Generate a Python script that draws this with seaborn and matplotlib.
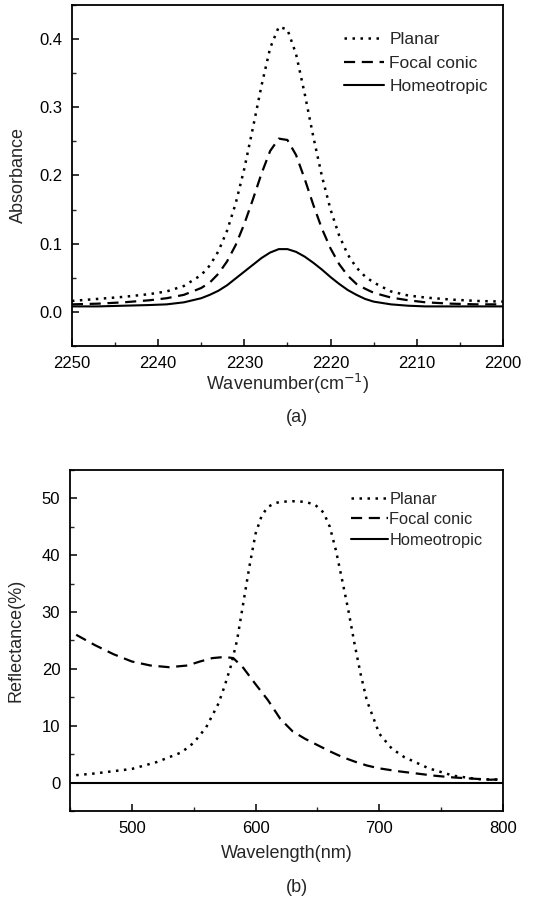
import numpy as np
import pandas as pd
import matplotlib
matplotlib.use("Agg")
import matplotlib.pyplot as plt
import seaborn as sns
from matplotlib.ticker import MultipleLocator

# ---- Panel (a) data ----
wavenumber = [2250, 2247, 2244, 2241, 2239, 2237, 2235, 2234, 2233, 2232, 2231,
              2230, 2229, 2228, 2227, 2226, 2225, 2224, 2223, 2222, 2221, 2220,
              2219, 2218, 2217, 2216, 2215, 2213, 2211, 2209, 2206, 2203, 2200]
abs_planar = [0.016, 0.019, 0.022, 0.026, 0.030, 0.038, 0.054, 0.068, 0.089, 0.119, 0.159,
              0.210, 0.270, 0.332, 0.387, 0.418, 0.414, 0.378, 0.320, 0.257, 0.199, 0.150,
              0.112, 0.084, 0.065, 0.052, 0.043, 0.030, 0.024, 0.021, 0.018, 0.016, 0.015]
abs_focal = [0.011, 0.012, 0.014, 0.017, 0.020, 0.025, 0.035, 0.043, 0.056, 0.074, 0.098,
             0.129, 0.165, 0.203, 0.236, 0.254, 0.252, 0.230, 0.195, 0.157, 0.122, 0.093,
             0.070, 0.053, 0.041, 0.034, 0.028, 0.021, 0.017, 0.014, 0.012, 0.011, 0.011]
abs_homeo = [0.008, 0.008, 0.009, 0.010, 0.011, 0.014, 0.020, 0.025, 0.031, 0.039, 0.049,
             0.059, 0.069, 0.079, 0.087, 0.092, 0.092, 0.088, 0.081, 0.072, 0.062, 0.051,
             0.041, 0.032, 0.025, 0.019, 0.015, 0.011, 0.009, 0.008, 0.008, 0.008, 0.008]

# ---- Panel (b) data ----
wl_planar = [455, 470, 485, 500, 520, 540, 550, 560, 570, 575, 580, 585, 590, 595, 600,
             605, 610, 615, 620, 630, 640, 648, 655, 660, 665, 670, 675, 680, 685, 690,
             700, 710, 720, 740, 760, 780, 800]
refl_planar = [1.3, 1.6, 2.0, 2.4, 3.6, 5.3, 7.0, 9.7, 13.9, 17.0, 20.5, 25.0, 31.5, 38.0, 43.8,
               47.0, 48.5, 49.1, 49.4, 49.5, 49.4, 48.9, 47.5, 45.0, 40.8, 35.6, 30.3, 24.4, 19.0, 14.4,
               8.6, 6.0, 4.5, 2.5, 1.2, 0.6, 0.5]
wl_focal = [455, 470, 485, 500, 515, 530, 545, 555, 565, 575, 582, 590, 600, 610, 620,
            630, 640, 650, 660, 670, 680, 690, 700, 715, 730, 745, 760, 775, 790, 800]
refl_focal = [26.0, 24.2, 22.6, 21.3, 20.6, 20.3, 20.6, 21.3, 21.9, 22.1, 21.9, 20.2, 17.3, 14.5, 11.2,
              9.0, 7.7, 6.6, 5.5, 4.5, 3.7, 3.0, 2.5, 2.0, 1.6, 1.2, 0.9, 0.7, 0.5, 0.6]
wl_homeo = [450, 500, 550, 600, 650, 700, 750, 800]
refl_homeo = [0.0, 0.0, 0.0, 0.0, 0.0, 0.0, 0.0, 0.0]

labels = ["Planar", "Focal conic", "Homeotropic"]

sns.set_style("ticks")
plt.rcParams['font.family'] = ['Liberation Sans', 'DejaVu Sans']
plt.rcParams['axes.linewidth'] = 1.3

fig = plt.figure(figsize=(5.53, 9.0), dpi=100)
ax1 = fig.add_axes([0.130, 0.6156, 0.7795, 0.3789])
ax2 = fig.add_axes([0.1266, 0.0989, 0.783, 0.3789])

dotted = (0, (1, 2.2))
dashed = (0, (5, 3))

df_a = pd.concat([
    pd.DataFrame({"x": wavenumber, "y": abs_planar, "s": labels[0]}),
    pd.DataFrame({"x": wavenumber, "y": abs_focal, "s": labels[1]}),
    pd.DataFrame({"x": wavenumber, "y": abs_homeo, "s": labels[2]}),
])
for lab, ls, lw in zip(labels, [dotted, dashed, "-"], [1.8, 1.6, 1.5]):
    sub = df_a[df_a.s == lab]
    sns.lineplot(data=sub, x="x", y="y", ax=ax1, color="black", linestyle=ls,
                 linewidth=lw, label=lab, sort=False)

df_b = pd.concat([
    pd.DataFrame({"x": wl_planar, "y": refl_planar, "s": labels[0]}),
    pd.DataFrame({"x": wl_focal, "y": refl_focal, "s": labels[1]}),
    pd.DataFrame({"x": wl_homeo, "y": refl_homeo, "s": labels[2]}),
])
for lab, ls, lw in zip(labels, [dotted, dashed, "-"], [1.8, 1.6, 1.5]):
    sub = df_b[df_b.s == lab]
    sns.lineplot(data=sub, x="x", y="y", ax=ax2, color="black", linestyle=ls,
                 linewidth=lw, label=lab, sort=False)

# axes (a)
ax1.set_xlim(2250, 2200)
ax1.set_ylim(-0.05, 0.45)
ax1.xaxis.set_major_locator(MultipleLocator(10))
ax1.xaxis.set_minor_locator(MultipleLocator(5))
ax1.yaxis.set_minor_locator(MultipleLocator(0.05))
ax1.set_yticks([0.0, 0.1, 0.2, 0.3, 0.4])
ax1.set_xlabel("Wavenumber(cm$^{-1}$)", fontsize=13, labelpad=1)
ax1.set_ylabel("Absorbance", fontsize=13, labelpad=9)

# axes (b)
ax2.set_xlim(450, 800)
ax2.set_ylim(-5, 55)
ax2.set_xticks([500, 600, 700, 800])
ax2.xaxis.set_minor_locator(MultipleLocator(50))
ax2.set_yticks([0, 10, 20, 30, 40, 50])
ax2.yaxis.set_minor_locator(MultipleLocator(5))
ax2.set_xlabel("Wavelength(nm)", fontsize=13, labelpad=7)
ax2.set_ylabel("Reflectance(%)", fontsize=13, labelpad=12)

for ax in (ax1, ax2):
    for sp in ax.spines.values():
        sp.set_visible(True)
        sp.set_linewidth(1.3)
        sp.set_color("black")
    ax.tick_params(which="major", direction="in", length=5, width=1.1,
                   labelsize=12, colors="black", top=False, right=False, pad=7)
    ax.tick_params(which="minor", direction="in", length=3, width=1.0,
                   top=False, right=False)

ax1.legend(loc="upper left", bbox_to_anchor=(0.632, 0.921), frameon=False,
           fontsize=12.5, handlelength=2.3, handletextpad=0.3,
           labelspacing=0.49, borderpad=0, borderaxespad=0)
ax2.legend(loc="upper left", bbox_to_anchor=(0.650, 0.936), frameon=False,
           fontsize=11.8, handlelength=2.2, handletextpad=0.1,
           labelspacing=0.33, borderpad=0, borderaxespad=0)

fig.text(0.5366, 1 - 417 / 900, "(a)", ha="center", va="center", fontsize=13)
fig.text(0.5366, 1 - 887 / 900, "(b)", ha="center", va="center", fontsize=13)

fig.savefig("out.png", dpi=100)
